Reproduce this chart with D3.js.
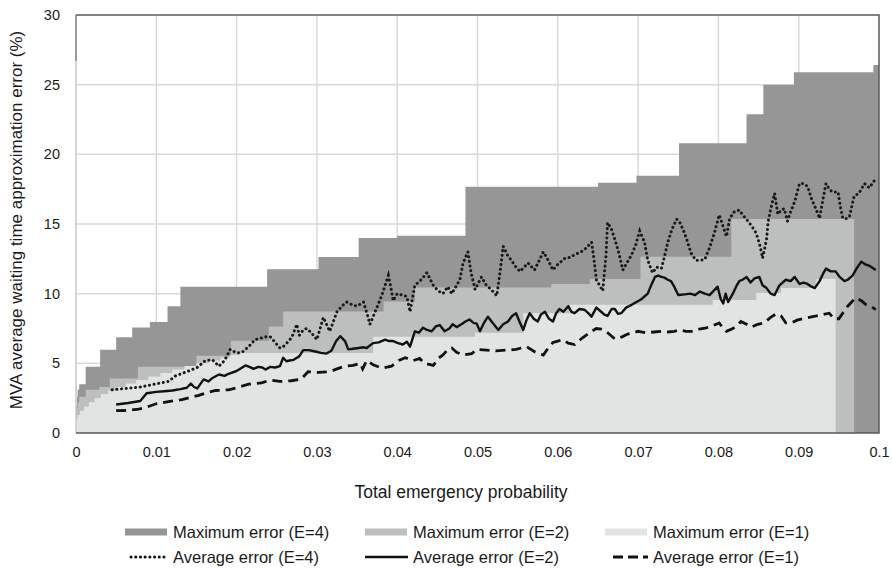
<!DOCTYPE html>
<html>
<head>
<meta charset="utf-8">
<script src="https://cdn.jsdelivr.net/npm/d3@7"></script>
<style>
body { margin: 0; background: #fff; }
text { font-family: "Liberation Sans", Arial, sans-serif; fill: #1a1a1a; }
</style>
</head>
<body>
<div id="canvas"></div>
<script>
"use strict"

/* Drawing size */
let svgWidth = 893;
let svgHeight = 569;
let plotLeft = 76;
let plotRight = 879;
let plotTop = 15;
let plotBottom = 433;

/* Axis ticks */
let xTicks = [0, 0.01, 0.02, 0.03, 0.04, 0.05, 0.06, 0.07, 0.08, 0.09, 0.1];
let xTickLabels = ["0", "0.01", "0.02", "0.03", "0.04", "0.05", "0.06", "0.07", "0.08", "0.09", "0.1"];
let yTicks = [0, 5, 10, 15, 20, 25, 30];

/* Maximum error, stepped: [probability, error %] */
let maxErrorE4 = [[0, 1.9], [0.0001, 2.6], [0.0002, 3.1], [0.0004, 3.5], [0.0012, 4.75], [0.0030, 5.97],
    [0.0050, 6.88], [0.0070, 7.58], [0.0092, 7.97], [0.0114, 9.1], [0.0130, 10.5], [0.0238, 11.76],
    [0.0302, 12.64], [0.0352, 14.0], [0.0400, 14.15], [0.0485, 17.67], [0.0650, 17.96], [0.0698, 18.46],
    [0.0751, 20.8], [0.0835, 22.88], [0.0856, 24.99], [0.0894, 25.9], [0.0993, 26.42], [0.1, 26.42]];

let maxErrorE2 = [[0, 1.3], [0.0001, 1.8], [0.0002, 2.2], [0.0004, 2.6], [0.0012, 3.1], [0.0029, 3.3],
    [0.0042, 3.92], [0.0077, 4.75], [0.0150, 5.55], [0.0193, 6.62], [0.0240, 7.65], [0.0258, 8.72],
    [0.0383, 9.44], [0.0422, 10.45], [0.0592, 10.7], [0.0640, 11.05], [0.0703, 12.65], [0.0816, 15.35],
    [0.0969, 0]];

let maxErrorE1 = [[0, 1.0], [0.0002, 1.3], [0.0005, 1.6], [0.0010, 1.9], [0.0016, 2.2], [0.0023, 2.5],
    [0.0031, 2.8], [0.0040, 3.05], [0.0050, 3.3], [0.0062, 3.55], [0.0075, 3.8], [0.0090, 4.05],
    [0.0105, 4.3], [0.0120, 4.55], [0.0135, 4.8], [0.0150, 5.0], [0.0165, 5.2], [0.0180, 5.4],
    [0.0192, 5.6], [0.0205, 5.74], [0.0370, 6.9], [0.0497, 7.2], [0.0557, 8.6], [0.0615, 9.2],
    [0.0793, 9.55], [0.0847, 10.04], [0.0878, 10.4], [0.0922, 11.05], [0.0946, 0]];

/* Average error: [probability, error %] */
let avgErrorE4 = [[0.0045, 3.1], [0.008, 3.3], [0.0115, 3.7], [0.0124, 4.1], [0.0138, 4.4], [0.0151, 4.7],
    [0.0161, 5.2], [0.0170, 5.25], [0.0178, 4.8], [0.0185, 5.2], [0.0192, 6.0], [0.0200, 5.75], [0.0207, 5.8],
    [0.0215, 6.2], [0.0223, 6.7], [0.0236, 6.9], [0.0242, 6.9], [0.0248, 6.5], [0.0254, 6.1], [0.0258, 6.2],
    [0.0265, 6.6], [0.0269, 6.9], [0.0275, 7.8], [0.0278, 7.0], [0.0283, 7.4], [0.0287, 7.5], [0.0293, 7.2],
    [0.0300, 6.7], [0.0308, 8.3], [0.0316, 7.3], [0.0325, 8.7], [0.0331, 9.1], [0.0337, 9.4], [0.0344, 9.2],
    [0.0350, 9.1], [0.0358, 9.4], [0.0362, 8.65], [0.0366, 7.8], [0.0374, 8.9], [0.0381, 9.9], [0.0389, 11.3],
    [0.0392, 10.5], [0.0395, 9.5], [0.0400, 10.0], [0.0406, 9.9], [0.0412, 9.8], [0.0416, 8.7], [0.0422, 10.6],
    [0.0430, 11.0], [0.0437, 11.5], [0.0445, 10.6], [0.0451, 10.2], [0.0457, 10.0], [0.0463, 10.5],
    [0.0468, 10.0], [0.0473, 10.5], [0.0478, 11.0], [0.0482, 12.2], [0.0488, 13.0], [0.0492, 11.5],
    [0.0497, 10.3], [0.0505, 11.2], [0.0511, 10.6], [0.0517, 10.3], [0.0524, 9.85], [0.0528, 11.5],
    [0.0532, 13.4], [0.0537, 12.8], [0.0542, 12.4], [0.0548, 11.9], [0.0553, 11.6], [0.0558, 11.9],
    [0.0563, 12.2], [0.0571, 11.7], [0.0577, 12.4], [0.0582, 13.0], [0.0588, 12.4], [0.0594, 11.7],
    [0.0600, 12.1], [0.0609, 12.55], [0.0615, 12.6], [0.0621, 12.8], [0.0629, 13.0], [0.0636, 13.3],
    [0.0642, 13.7], [0.0645, 12.5], [0.0648, 11.0], [0.0656, 10.2], [0.0660, 12.7], [0.0662, 15.1],
    [0.0667, 14.6], [0.0671, 13.9], [0.0675, 13.15], [0.0681, 11.7], [0.0687, 12.3], [0.0692, 12.8],
    [0.0697, 13.5], [0.0702, 14.5], [0.0708, 13.7], [0.0712, 12.4], [0.0718, 11.5], [0.0723, 11.9],
    [0.0729, 11.8], [0.0733, 12.7], [0.0737, 13.7], [0.0742, 14.6], [0.0748, 15.35], [0.0752, 15.1],
    [0.0756, 14.6], [0.0760, 14.0], [0.0766, 12.9], [0.0772, 12.4], [0.0777, 12.4], [0.0783, 12.45],
    [0.0789, 13.3], [0.0795, 14.35], [0.0801, 15.65], [0.0806, 14.8], [0.0810, 14.1], [0.0814, 15.4],
    [0.0820, 15.9], [0.0826, 16.0], [0.0831, 15.6], [0.0837, 15.2], [0.0842, 14.8], [0.0847, 14.35],
    [0.0852, 13.4], [0.0855, 12.55], [0.0860, 13.9], [0.0862, 15.2], [0.0866, 16.3], [0.0870, 17.2],
    [0.0874, 15.7], [0.0878, 16.0], [0.0882, 16.1], [0.0886, 15.2], [0.0890, 15.9], [0.0895, 16.6],
    [0.0901, 17.9], [0.0906, 17.9], [0.0911, 17.7], [0.0916, 16.8], [0.0922, 16.0], [0.0926, 15.4],
    [0.0930, 16.7], [0.0934, 17.9], [0.0938, 17.5], [0.0942, 17.3], [0.0949, 17.3], [0.0952, 16.2],
    [0.0955, 15.4], [0.0960, 15.4], [0.0963, 15.5], [0.0969, 17.0], [0.0975, 17.2], [0.0982, 17.9],
    [0.0988, 17.6], [0.0994, 18.1]];

let avgErrorE2 = [[0.0050, 2.05], [0.0065, 2.15], [0.0080, 2.3], [0.0088, 2.85], [0.0100, 2.95], [0.0110, 3.0],
    [0.0120, 3.05], [0.0130, 3.15], [0.0138, 3.25], [0.0143, 3.55], [0.0147, 3.3], [0.0151, 3.2], [0.0159, 3.85],
    [0.0165, 3.7], [0.0170, 3.95], [0.0178, 4.2], [0.0185, 4.1], [0.0190, 4.25], [0.0200, 4.45], [0.0211, 4.85],
    [0.0216, 4.75], [0.0221, 4.6], [0.0227, 4.75], [0.0232, 4.7], [0.0236, 4.55], [0.0242, 4.75], [0.0248, 4.7],
    [0.0254, 4.8], [0.0258, 5.4], [0.0262, 5.15], [0.0266, 5.2], [0.0271, 5.25], [0.0278, 5.5], [0.0283, 5.95],
    [0.0290, 5.95], [0.0298, 5.85], [0.0305, 5.75], [0.0312, 5.7], [0.0318, 5.9], [0.0324, 6.6], [0.0329, 6.95],
    [0.0335, 6.6], [0.0339, 6.0], [0.0345, 6.05], [0.0352, 6.1], [0.0358, 6.15], [0.0362, 6.1], [0.0370, 6.45],
    [0.0377, 6.5], [0.0385, 6.7], [0.0390, 6.6], [0.0395, 6.6], [0.0401, 6.45], [0.0407, 6.35], [0.0412, 6.55],
    [0.0416, 6.2], [0.0422, 7.3], [0.0427, 7.2], [0.0432, 7.55], [0.0437, 7.4], [0.0443, 7.3], [0.0448, 7.65],
    [0.0453, 7.75], [0.0459, 7.3], [0.0465, 7.5], [0.0469, 7.8], [0.0474, 7.6], [0.0480, 7.8], [0.0485, 8.0],
    [0.0490, 8.15], [0.0495, 7.9], [0.0499, 7.85], [0.0503, 7.3], [0.0508, 7.9], [0.0513, 8.35], [0.0519, 7.9],
    [0.0526, 7.4], [0.0532, 7.8], [0.0538, 8.0], [0.0543, 8.4], [0.0548, 8.6], [0.0553, 7.9], [0.0557, 7.4],
    [0.0561, 8.1], [0.0565, 8.6], [0.0570, 8.2], [0.0575, 8.0], [0.0579, 8.5], [0.0584, 8.7], [0.0589, 8.2],
    [0.0594, 8.0], [0.0598, 8.6], [0.0602, 8.9], [0.0607, 8.7], [0.0613, 9.1], [0.0617, 8.7], [0.0621, 8.6],
    [0.0627, 8.9], [0.0633, 8.85], [0.0638, 8.6], [0.0642, 8.35], [0.0648, 9.0], [0.0654, 8.7], [0.0658, 8.5],
    [0.0662, 8.4], [0.0667, 8.9], [0.0671, 8.9], [0.0675, 8.55], [0.0679, 8.6], [0.0685, 9.0], [0.0692, 9.2],
    [0.0698, 9.4], [0.0704, 9.6], [0.0712, 10.0], [0.0717, 10.7], [0.0721, 11.2], [0.0725, 11.3], [0.0729, 11.2],
    [0.0733, 11.15], [0.0737, 11.0], [0.0741, 10.9], [0.0745, 10.5], [0.0750, 9.9], [0.0758, 9.95],
    [0.0765, 10.0], [0.0771, 9.9], [0.0777, 10.15], [0.0783, 10.0], [0.0789, 9.9], [0.0794, 10.2],
    [0.0799, 10.5], [0.0803, 9.6], [0.0806, 9.3], [0.0809, 10.0], [0.0812, 9.4], [0.0818, 10.0], [0.0822, 10.5],
    [0.0826, 10.9], [0.0830, 11.0], [0.0835, 11.2], [0.0840, 10.8], [0.0845, 11.1], [0.0851, 11.2],
    [0.0855, 10.6], [0.0860, 10.4], [0.0865, 10.0], [0.0870, 9.9], [0.0876, 10.6], [0.0880, 10.8],
    [0.0884, 11.0], [0.0890, 10.9], [0.0895, 11.2], [0.0901, 10.7], [0.0906, 10.8], [0.0911, 10.7],
    [0.0916, 10.5], [0.0920, 10.4], [0.0926, 10.9], [0.0930, 11.4], [0.0934, 11.8], [0.0940, 11.6],
    [0.0946, 11.6], [0.0951, 11.2], [0.0957, 10.9], [0.0961, 11.0], [0.0967, 11.3], [0.0972, 11.8],
    [0.0978, 12.3], [0.0983, 12.1], [0.0988, 12.0], [0.0996, 11.7]];

let avgErrorE1 = [[0.0050, 1.6], [0.0065, 1.62], [0.0078, 1.72], [0.0085, 1.8], [0.0100, 2.1], [0.0115, 2.25],
    [0.0132, 2.4], [0.0142, 2.55], [0.0153, 2.7], [0.0163, 2.9], [0.0174, 3.05], [0.0190, 3.1], [0.0200, 3.25],
    [0.0215, 3.5], [0.0231, 3.6], [0.0242, 3.8], [0.0254, 3.7], [0.0268, 3.75], [0.0280, 3.85], [0.0289, 4.4],
    [0.0302, 4.35], [0.0316, 4.4], [0.0325, 4.6], [0.0335, 4.8], [0.0345, 4.85], [0.0354, 5.0], [0.0357, 4.6],
    [0.0362, 5.2], [0.0370, 4.9], [0.0381, 4.65], [0.0393, 4.8], [0.0402, 5.2], [0.0410, 5.4], [0.0420, 5.2],
    [0.0428, 5.35], [0.0434, 5.0], [0.0445, 4.85], [0.0452, 5.4], [0.0457, 5.6], [0.0463, 6.0], [0.0468, 6.1],
    [0.0474, 5.8], [0.0482, 5.6], [0.0493, 5.7], [0.0499, 6.0], [0.0511, 5.95], [0.0523, 5.9], [0.0536, 5.95],
    [0.0548, 6.0], [0.0561, 6.2], [0.0572, 5.8], [0.0582, 5.6], [0.0588, 6.1], [0.0594, 6.5], [0.0600, 6.6],
    [0.0606, 6.7], [0.0613, 6.45], [0.0621, 6.35], [0.0630, 6.8], [0.0642, 7.3], [0.0648, 7.5], [0.0654, 7.45],
    [0.0660, 7.3], [0.0671, 6.75], [0.0680, 6.9], [0.0687, 7.1], [0.0694, 7.2], [0.0700, 7.3], [0.0710, 7.2],
    [0.0720, 7.25], [0.0729, 7.3], [0.0737, 7.25], [0.0745, 7.3], [0.0752, 7.4], [0.0760, 7.3], [0.0768, 7.3],
    [0.0776, 7.45], [0.0785, 7.55], [0.0793, 7.7], [0.0801, 7.9], [0.0806, 7.5], [0.0810, 7.3], [0.0818, 7.5],
    [0.0823, 7.7], [0.0828, 8.0], [0.0835, 7.8], [0.0841, 7.6], [0.0849, 7.8], [0.0857, 7.9], [0.0865, 8.3],
    [0.0872, 8.55], [0.0878, 8.4], [0.0884, 7.9], [0.0891, 7.9], [0.0898, 8.1], [0.0905, 8.2], [0.0913, 8.3],
    [0.0922, 8.4], [0.0930, 8.5], [0.0938, 8.6], [0.0944, 8.2], [0.0950, 8.2], [0.0956, 8.7], [0.0961, 9.1],
    [0.0966, 9.4], [0.0971, 9.7], [0.0978, 9.5], [0.0984, 9.2], [0.0990, 9.1], [0.0996, 8.85]];

let seriesNames = ["Maximum error (E=4)", "Maximum error (E=2)", "Maximum error (E=1)",
    "Average error (E=4)", "Average error (E=2)", "Average error (E=1)"];

/* Create drawing canvas */
let svg = d3.select("#canvas")
    .append("svg")
    .attr("width", svgWidth)
    .attr("height", svgHeight);

let xScale = d3.scaleLinear()
    .domain([0, 0.1])
    .range([plotLeft, plotRight]);

let yScale = d3.scaleLinear()
    .domain([0, 30])
    .range([plotBottom, plotTop]);

// grid lines go first, areas cover them
svg.append("g")
    .selectAll("line")
    .data(yTicks.slice(1, -1))
    .join("line")
    .attr("x1", plotLeft)
    .attr("x2", plotRight)
    .attr("y1", d => yScale(d))
    .attr("y2", d => yScale(d))
    .attr("stroke", "#dadada")
    .attr("stroke-width", 1.5);

svg.append("g")
    .selectAll("line")
    .data(xTicks.slice(1, -1))
    .join("line")
    .attr("x1", d => xScale(d))
    .attr("x2", d => xScale(d))
    .attr("y1", plotTop)
    .attr("y2", plotBottom)
    .attr("stroke", "#dadada")
    .attr("stroke-width", 1.5);

/**** stepped max error areas ****/
let area = d3.area()
    .curve(d3.curveStepAfter)
    .x(d => xScale(d[0]))
    .y0(yScale(0))
    .y1(d => yScale(d[1]));

let areaData = [
    { values: maxErrorE4, color: "#969696" },
    { values: maxErrorE2, color: "#bdbebe" },
    { values: maxErrorE1, color: "#e2e3e3" }
];

svg.selectAll(".maxArea")
    .data(areaData)
    .join("path")
    .attr("class", "maxArea")
    .attr("d", d => area(d.values))
    .attr("fill", d => d.color);

/**** average error lines ****/
let line = d3.line()
    .x(d => xScale(d[0]))
    .y(d => yScale(d[1]));

svg.append("path")
    .attr("d", line(avgErrorE4))
    .attr("fill", "none")
    .attr("stroke", "#1a1a1a")
    .attr("stroke-width", 3)
    .attr("stroke-linecap", "round")
    .attr("stroke-dasharray", "0.1,4.6");

svg.append("path")
    .attr("d", line(avgErrorE2))
    .attr("fill", "none")
    .attr("stroke", "#111")
    .attr("stroke-width", 2.4)
    .attr("stroke-linejoin", "round");

svg.append("path")
    .attr("d", line(avgErrorE1))
    .attr("fill", "none")
    .attr("stroke", "#111")
    .attr("stroke-width", 2.8)
    .attr("stroke-dasharray", "10,6");

/**** plot frame ****/
svg.append("line")
    .attr("x1", plotLeft).attr("x2", plotLeft)
    .attr("y1", plotTop).attr("y2", plotBottom)
    .attr("stroke", "#c8c8c8")
    .attr("stroke-width", 1.5);

svg.append("line") // darker top piece of the left edge
    .attr("x1", plotLeft).attr("x2", plotLeft)
    .attr("y1", plotTop).attr("y2", yScale(26.7))
    .attr("stroke", "#8a8a8a")
    .attr("stroke-width", 1.5);

svg.append("path")
    .attr("d", "M" + plotLeft + "," + plotTop + "H" + plotRight + "V" + plotBottom + "H" + plotLeft)
    .attr("fill", "none")
    .attr("stroke", "#5a5a5a")
    .attr("stroke-width", 1.5);

/**** axes ****/
let xAxis = svg.append("g")
    .attr("transform", "translate(0," + (plotBottom + 11) + ")")
    .call(d3.axisBottom(xScale)
        .tickValues(xTicks)
        .tickFormat((d, i) => xTickLabels[i])
        .tickSize(0));
xAxis.select(".domain").remove();
xAxis.selectAll("text")
    .style("font-size", "14.5px")
    .style("font-family", "Liberation Sans, Arial, sans-serif")
    .attr("fill", "#1a1a1a");

let yAxis = svg.append("g")
    .attr("transform", "translate(" + (plotLeft - 13) + ",0)")
    .call(d3.axisLeft(yScale)
        .tickValues(yTicks)
        .tickSize(0));
yAxis.select(".domain").remove();
yAxis.selectAll("text")
    .style("font-size", "14.5px")
    .style("font-family", "Liberation Sans, Arial, sans-serif")
    .attr("fill", "#1a1a1a");

svg.append("text")
    .attr("x", 461)
    .attr("y", 498)
    .attr("text-anchor", "middle")
    .style("font-size", "17.5px")
    .text("Total emergency probability");

svg.append("text")
    .attr("transform", "translate(22," + 220 + ") rotate(-90)")
    .attr("text-anchor", "middle")
    .style("font-size", "17px")
    .text("MVA average waiting time approximation error (%)");

/**** legend ****/
let legendX = [125, 365, 605];
let legendY = [532, 557];

svg.selectAll(".legendSwatch")
    .data(areaData)
    .join("rect")
    .attr("x", (d, i) => legendX[i])
    .attr("y", legendY[0] - 3.5)
    .attr("width", 42)
    .attr("height", 7)
    .attr("fill", d => d.color);

let lineStyles = [
    { width: 3, dash: "0.1,4.6", cap: "round", start: 6 },
    { width: 2.4, dash: null, cap: "butt", start: 0 },
    { width: 2.8, dash: "10,5", cap: "butt", start: 8 }
];

svg.selectAll(".legendLine")
    .data(lineStyles)
    .join("line")
    .attr("x1", (d, i) => legendX[i] + d.start)
    .attr("x2", (d, i) => legendX[i] + 43)
    .attr("y1", legendY[1])
    .attr("y2", legendY[1])
    .attr("stroke", "#111")
    .attr("stroke-width", d => d.width)
    .attr("stroke-linecap", d => d.cap)
    .attr("stroke-dasharray", d => d.dash);

svg.selectAll(".legendText")
    .data(seriesNames)
    .join("text")
    .attr("x", (d, i) => legendX[i % 3] + 48)
    .attr("y", (d, i) => legendY[Math.floor(i / 3)])
    .attr("dominant-baseline", "central")
    .style("font-size", "16.5px")
    .text(d => d);
</script>
</body>
</html>
